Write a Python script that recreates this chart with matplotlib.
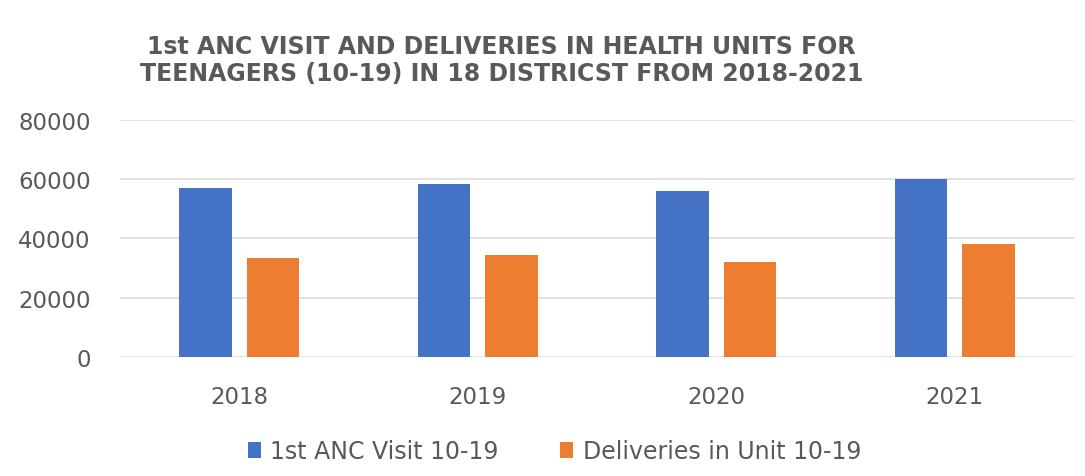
import numpy as np
import matplotlib
matplotlib.use('Agg')
import matplotlib.pyplot as plt

# 数据
years = ['2018', '2019', '2020', '2021']
anc_visit = [56900, 58300, 56100, 60000]
deliveries = [33500, 34400, 31900, 38100]
yticks = [0, 20000, 40000, 60000, 80000]

blue = '#4472C4'
orange = '#ED7D31'
grey = '#595959'

fig = plt.figure(figsize=(10.85, 4.77), dpi=100)
ax = fig.add_axes([0.1106, 0.2495, 0.8792, 0.4973])

x = np.arange(len(years))
w = 0.22
ax.bar(x - 0.142, anc_visit, w, color=blue, label='1st ANC Visit 10-19', zorder=3)
ax.bar(x + 0.142, deliveries, w, color=orange, label='Deliveries in Unit 10-19', zorder=3)

ax.set_xlim(-0.5, len(years) - 0.5)
ax.set_ylim(0, 80000)
ax.set_yticks(yticks)
ax.set_yticklabels([str(v) for v in yticks])
ax.set_xticks(x)
ax.set_xticklabels(years)
ax.tick_params(axis='both', length=0, labelsize=16.5, colors=grey)
ax.tick_params(axis='y', pad=21)
ax.tick_params(axis='x', pad=20)
ax.grid(axis='y', color='#DDDDDD', linewidth=1.2, zorder=0)
for s in ax.spines.values():
    s.set_visible(False)

fig.text(0.462, 0.874, '1st ANC VISIT AND DELIVERIES IN HEALTH UNITS FOR\nTEENAGERS (10-19) IN 18 DISTRICST FROM 2018-2021',
         ha='center', va='center', fontsize=17, fontweight='bold', color=grey, linespacing=1.15)

fig.legend(loc='center', bbox_to_anchor=(0.511, 0.052), ncol=2, frameon=False,
           fontsize=17, labelcolor=grey, handlelength=0.55, handleheight=0.7,
           handletextpad=0.4, columnspacing=2.6)

plt.savefig('out.png')
